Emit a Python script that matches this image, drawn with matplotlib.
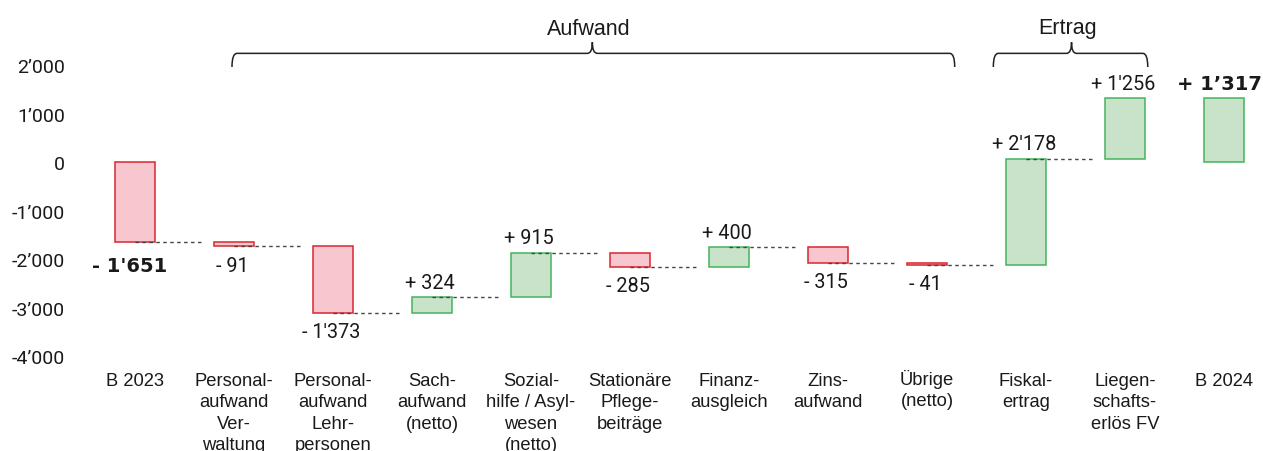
import matplotlib
matplotlib.use("Agg")
import matplotlib.pyplot as plt
from matplotlib.path import Path
from matplotlib.patches import PathPatch
from matplotlib.font_manager import FontProperties, findfont
from matplotlib.transforms import ScaledTranslation

# Überleitung Budget 2023 -> Budget 2024 (Mio. Fr.)
categories = [
    "B 2023",
    "Personal-\naufwand\nVer-\nwaltung",
    "Personal-\naufwand\nLehr-\npersonen",
    "Sach-\naufwand\n(netto)",
    "Sozial-\nhilfe / Asyl-\nwesen\n(netto)",
    "Stationäre\nPflege-\nbeiträge",
    "Finanz-\nausgleich",
    "Zins-\naufwand",
    "Übrige\n(netto)",
    "Fiskal-\nertrag",
    "Liegen-\nschafts-\nerlös FV",
    "B 2024",
]
changes = [-1651, -91, -1373, 324, 915, -285, 400, -315, -41, 2178, 1256]
total_2024 = 1317
value_labels = ["- 1'651", "- 91", "- 1'373", "+ 324", "+ 915", "- 285",
                "+ 400", "- 315", "- 41", "+ 2'178", "+ 1'256", "+ 1’317"]
y_ticks = [2000, 1000, 0, -1000, -2000, -3000, -4000]
y_tick_labels = ["2’000", "1’000", "0", "-1’000", "-2’000", "-3’000", "-4’000"]
groups = ["Aufwand", "Ertrag"]

RED_FILL, RED_EDGE = "#f7c6cf", "#d9262f"
GREEN_FILL, GREEN_EDGE = "#c8e3c9", "#45b45c"
TEXT = "#1a1a1a"


def pick_font(names):
    for n in names:
        try:
            findfont(FontProperties(family=n), fallback_to_default=False)
            return n
        except Exception:
            pass
    return "DejaVu Sans"


label_font = pick_font(["Liberation Sans", "Noto Sans"])
num_font = pick_font(["Roboto", "Liberation Sans"])

# waterfall geometry
bottoms, heights = [], []
level = 0
for c in changes:
    bottoms.append(level)
    heights.append(c)
    level += c
bottoms.append(0)
heights.append(total_2024)
ends = [b + h for b, h in zip(bottoms, heights)]
x = list(range(len(categories)))
fills = [GREEN_FILL if h > 0 else RED_FILL for h in heights]
edges = [GREEN_EDGE if h > 0 else RED_EDGE for h in heights]

fig = plt.figure(figsize=(12.63, 4.52), dpi=100)
ax = fig.add_axes([72 / 1263, 82 / 452, 1 - 72 / 1263, 320 / 452])

ax.bar(x, heights, bottom=bottoms, width=0.4, color=fills, edgecolor=edges,
       linewidth=1.1, zorder=2)

# dashed connectors
for i in range(len(changes) - 1):
    ax.plot([x[i], x[i] + 0.7], [ends[i], ends[i]], color="#444444",
            linestyle=(0, (2.5, 2.5)), linewidth=1, zorder=3)

# value labels
last = len(value_labels) - 1
for i, lbl in enumerate(value_labels):
    bold = i in (0, last)
    if bold:
        fp = dict(family="DejaVu Sans", weight="bold", fontsize=14)
    else:
        fp = dict(family=num_font, fontsize=14.3)
    dx = -3.5 if bold else -1.5
    top = max(bottoms[i], ends[i])
    low = min(bottoms[i], ends[i])
    if heights[i] < 0:
        dy = -10 if bold else -6.5
        ax.annotate(lbl, (x[i], low), xytext=(dx, dy), textcoords="offset points",
                    ha="center", va="top", color=TEXT, **fp)
    else:
        ax.annotate(lbl, (x[i], top), xytext=(dx, 4), textcoords="offset points",
                    ha="center", va="bottom", color=TEXT, **fp)


def brace(ax, x0, x1, xm, y_tip, y_bar, y_peak, dx=0.05):
    verts = [(x0, y_tip), (x0, y_bar), (x0 + dx, y_bar),
             (xm - dx, y_bar), (xm, y_bar), (xm, y_peak),
             (xm, y_bar), (xm + dx, y_bar),
             (x1 - dx, y_bar), (x1, y_bar), (x1, y_tip)]
    codes = [Path.MOVETO, Path.CURVE3, Path.CURVE3,
             Path.LINETO, Path.CURVE3, Path.CURVE3,
             Path.CURVE3, Path.CURVE3,
             Path.LINETO, Path.CURVE3, Path.CURVE3]
    ax.add_patch(PathPatch(Path(verts, codes), fill=False, edgecolor="#222222",
                           linewidth=1.1, clip_on=False))


brace(ax, 0.98, 8.28, 4.62, 1959, 2240, 2470)
brace(ax, 8.67, 10.23, 9.46, 1959, 2240, 2470)
ax.text(4.58, 2760, groups[0], ha="center", va="center", fontsize=15.5,
        family=label_font, color=TEXT)
ax.text(9.42, 2770, groups[1], ha="center", va="center", fontsize=15.5,
        family=label_font, color=TEXT)

ax.set_xlim(-0.636, 11.394)
ax.set_ylim(-4268, 2330)
ax.set_yticks(y_ticks, y_tick_labels)
ax.set_xticks(x, categories)
ax.tick_params(axis="y", length=0, pad=5, labelsize=14, labelcolor=TEXT)
ax.tick_params(axis="x", length=0, pad=2, labelsize=13.2, labelcolor=TEXT)
for t in ax.get_yticklabels():
    t.set_family(num_font)
for t in ax.get_xticklabels():
    t.set_family(label_font)
    t.set_linespacing(1.35)
    if t.get_text().startswith("Ü"):
        # umlaut on a capital makes the box taller; lift it back in line
        t.set_transform(t.get_transform() + ScaledTranslation(0, 3 / 100, fig.dpi_scale_trans))
for s in ax.spines.values():
    s.set_visible(False)

fig.savefig("out.png", dpi=100)
